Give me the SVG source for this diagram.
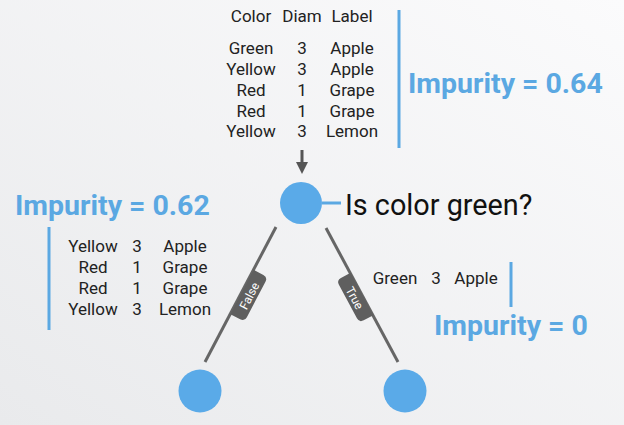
<svg xmlns="http://www.w3.org/2000/svg" width="624" height="425" viewBox="0 0 624 425">
<defs>
<linearGradient id="bg" x1="1" y1="0" x2="0" y2="1">
<stop offset="0" stop-color="#fbfbfc"/>
<stop offset="1" stop-color="#e9eaec"/>
</linearGradient>
<marker id="ah" viewBox="0 0 10 10" refX="5" refY="5" markerWidth="4" markerHeight="4" orient="auto">
<path d="M0,0 L10,5 L0,10 z" fill="#555"/>
</marker>
</defs>
<style>
.t{font-family:Roboto,"Liberation Sans",sans-serif;font-size:17px;fill:#222;text-anchor:middle}
.imp{font-family:Roboto,"Liberation Sans",sans-serif;font-size:28.5px;font-weight:bold;fill:#5ba8e2}
.q{font-family:Roboto,"Liberation Sans",sans-serif;font-size:28.8px;fill:#111}
.bar{stroke:#5ba8e2;stroke-width:3}
.node{fill:#5aaae8}
.edge{stroke:#666;stroke-width:3}
.tag{fill:#5f5f5f}
.tagt{font-family:Roboto,"Liberation Sans",sans-serif;font-size:12px;fill:#fff;text-anchor:middle}
</style>
<rect width="624" height="425" fill="url(#bg)"/>

<g id="root-data">
<text class="t" x="251" y="22">Color</text>
<text class="t" x="302" y="22">Diam</text>
<text class="t" x="352" y="22">Label</text>
<text class="t" x="251" y="54">Green</text><text class="t" x="302" y="54">3</text><text class="t" x="352" y="54">Apple</text>
<text class="t" x="251" y="75">Yellow</text><text class="t" x="302" y="75">3</text><text class="t" x="352" y="75">Apple</text>
<text class="t" x="251" y="96">Red</text><text class="t" x="302" y="96">1</text><text class="t" x="352" y="96">Grape</text>
<text class="t" x="251" y="117">Red</text><text class="t" x="302" y="117">1</text><text class="t" x="352" y="117">Grape</text>
<text class="t" x="251" y="137">Yellow</text><text class="t" x="302" y="137">3</text><text class="t" x="352" y="137">Lemon</text>
<line class="bar" x1="399" y1="10" x2="399" y2="148"/>
<text class="imp" x="408" y="93">Impurity = 0.64</text>
</g>

<g id="connectors">
<line x1="302" y1="150" x2="302" y2="168" stroke="#555" stroke-width="3" marker-end="url(#ah)"/>
<line x1="276" y1="227" x2="205" y2="362" class="edge"/>
<line x1="326" y1="228" x2="398" y2="362" class="edge"/>
<line x1="322" y1="203" x2="341" y2="203" class="bar"/>
<g transform="translate(242,292) rotate(-62.3)">
<path class="tag" d="M-25,0 L25,0 L25,11 Q25,16 20,16 L-20,16 Q-25,16 -25,11 z"/>
<text class="tagt" x="0" y="12.5">False</text>
</g>
<g transform="translate(362,294) rotate(61.7)">
<path class="tag" d="M-24,0 L24,0 L24,11 Q24,16 19,16 L-19,16 Q-24,16 -24,11 z"/>
<text class="tagt" x="0" y="12.5">True</text>
</g>
</g>

<g id="root">
<circle class="node" cx="301" cy="203" r="21"/>
<text class="q" x="345" y="215">Is color green?</text>
</g>

<g id="left-data">
<text class="imp" x="15" y="215">Impurity = 0.62</text>
<line class="bar" x1="49" y1="227" x2="49" y2="330"/>
<text class="t" x="93" y="252">Yellow</text><text class="t" x="137" y="252">3</text><text class="t" x="185" y="252">Apple</text>
<text class="t" x="93" y="273">Red</text><text class="t" x="137" y="273">1</text><text class="t" x="185" y="273">Grape</text>
<text class="t" x="93" y="294">Red</text><text class="t" x="137" y="294">1</text><text class="t" x="185" y="294">Grape</text>
<text class="t" x="93" y="315">Yellow</text><text class="t" x="137" y="315">3</text><text class="t" x="185" y="315">Lemon</text>
</g>

<g id="right-data">
<text class="t" x="395" y="284">Green</text><text class="t" x="436" y="284">3</text><text class="t" x="476" y="284">Apple</text>
<line class="bar" x1="511" y1="262" x2="511" y2="307"/>
<text class="imp" x="434" y="335">Impurity = 0</text>
</g>

<g id="left-leaf"><circle class="node" cx="200" cy="391" r="21.5"/></g>
<g id="right-leaf"><circle class="node" cx="405" cy="391" r="21.5"/></g>
</svg>
